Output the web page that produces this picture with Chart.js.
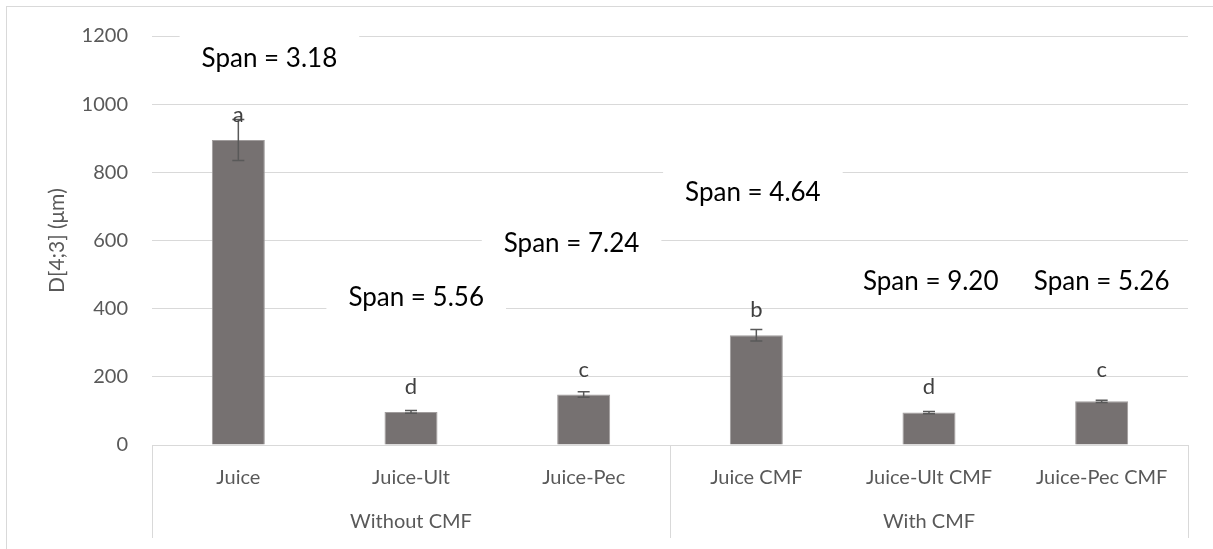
<!DOCTYPE html>
<html>
<head>
<meta charset="utf-8">
<script src="https://cdn.jsdelivr.net/npm/chart.js@4"></script>
<style>
  html, body { margin: 0; padding: 0; background: #ffffff; }
  #wrap { width: 1213px; height: 549px; }
</style>
</head>
<body>
<div id="wrap"><canvas id="c" width="1213" height="549"></canvas></div>
<script>
// ---- data ----
const categories = ['Juice', 'Juice-Ult', 'Juice-Pec', 'Juice CMF', 'Juice-Ult CMF', 'Juice-Pec CMF'];
const groups = ['Without CMF', 'With CMF'];
const meanD43 = [895, 97, 148, 322, 95, 128];
const errorD43 = [60, 4, 8, 17, 3, 3];
const letters = ['a', 'd', 'c', 'b', 'd', 'c'];
const spanLabels = ['Span = 3.18', 'Span = 5.56', 'Span = 7.24', 'Span = 4.64', 'Span = 9.20', 'Span = 5.26'];
const yTickValues = [0, 200, 400, 600, 800, 1000, 1200];

const FONT = 'Lato, "Open Sans", sans-serif';

const annot = {
  id: 'annot',
  beforeDraw(chart) {
    const ctx = chart.ctx;
    ctx.save();
    ctx.fillStyle = '#ffffff';
    ctx.fillRect(0, 0, chart.width, chart.height);
    ctx.strokeStyle = '#d9d9d9';
    ctx.lineWidth = 1;
    ctx.strokeRect(6.5, 6.5, chart.width + 10, chart.height + 10);
    ctx.restore();
  },
  afterDatasetsDraw(chart, args, opts) {
    const ctx = chart.ctx;
    const x = chart.scales.x, y = chart.scales.y;
    const area = chart.chartArea;
    ctx.save();
    // error bars
    ctx.strokeStyle = '#595959';
    ctx.lineWidth = 1.5;
    meanD43.forEach((v, i) => {
      const px = x.getPixelForValue(i);
      const top = y.getPixelForValue(v + errorD43[i]);
      const bot = y.getPixelForValue(v - errorD43[i]);
      ctx.beginPath();
      ctx.moveTo(px, top); ctx.lineTo(px, bot);
      ctx.moveTo(px - 6, top); ctx.lineTo(px + 6, top);
      ctx.moveTo(px - 6, bot); ctx.lineTo(px + 6, bot);
      ctx.stroke();
    });
    // significance letters
    ctx.fillStyle = '#404040';
    ctx.font = '22px ' + FONT;
    ctx.textAlign = 'center';
    ctx.textBaseline = 'middle';
    letters.forEach((l, i) => {
      ctx.fillText(l, x.getPixelForValue(i), y.getPixelForValue(opts.letterY[i]));
    });
    // span text boxes
    ctx.font = '26px ' + FONT;
    spanLabels.forEach((s, i) => {
      const a = opts.spanAnchor[i];
      const px = x.getPixelForValue(a[0]);
      const py = y.getPixelForValue(a[1]);
      const w = ctx.measureText(s).width + 44;
      ctx.fillStyle = '#ffffff';
      ctx.fillRect(px - w / 2, py - 24, w, 48);
      ctx.fillStyle = '#000000';
      ctx.fillText(s, px, py);
    });
    // group separators and labels
    ctx.strokeStyle = '#d9d9d9';
    ctx.lineWidth = 1;
    const mid = (x.getPixelForValue(2) + x.getPixelForValue(3)) / 2;
    [area.left, mid, area.right].forEach(px => {
      const xx = Math.round(px) + 0.5;
      ctx.beginPath();
      ctx.moveTo(xx, area.bottom);
      ctx.lineTo(xx, area.bottom + 93);
      ctx.stroke();
    });
    ctx.fillStyle = '#595959';
    ctx.font = '20px ' + FONT;
    ctx.fillText(groups[0], x.getPixelForValue(1), area.bottom + 77);
    ctx.fillText(groups[1], x.getPixelForValue(4), area.bottom + 77);
    ctx.restore();
  }
};

new Chart(document.getElementById('c'), {
  type: 'bar',
  data: {
    labels: categories,
    datasets: [{
      data: meanD43,
      backgroundColor: '#767171',
      borderColor: '#a09c9c',
      borderWidth: 1,
      barPercentage: 0.307,
      categoryPercentage: 1
    }]
  },
  options: {
    responsive: false,
    animation: false,
    devicePixelRatio: 1,
    layout: { padding: { left: 0, right: 25, top: 35, bottom: 0 } },
    plugins: {
      legend: { display: false },
      tooltip: { enabled: false },
      annot: {
        letterY: [969, 170, 219, 395, 170, 219],
        spanAnchor: [[0.18, 1135], [1.03, 433], [1.93, 591], [2.98, 740], [4.01, 480], [5.0, 480]]
      }
    },
    scales: {
      x: {
        grid: { display: false, drawTicks: false },
        border: { display: false },
        ticks: { color: '#595959', font: { family: FONT, size: 20 }, padding: 21, maxRotation: 0, autoSkip: false },
        afterFit(s) { s.height = 104; }
      },
      y: {
        min: 0, max: 1200,
        afterBuildTicks(s) { s.ticks = yTickValues.map(v => ({ value: v })); },
        grid: { color: '#d9d9d9', lineWidth: 1, drawTicks: false },
        border: { display: false },
        ticks: { color: '#595959', font: { family: FONT, size: 20 }, padding: 24, callback: v => String(v) },
        title: { display: true, text: 'D[4;3] (μm)', color: '#595959', font: { family: FONT, size: 21, lineHeight: 1.2 }, padding: { top: 45, bottom: 0 } },
        afterFit(s) { s.width = 152; }
      }
    }
  },
  plugins: [annot]
});
</script>
</body>
</html>
